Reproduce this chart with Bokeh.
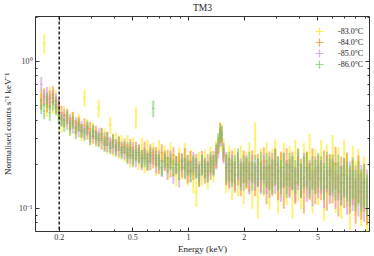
import numpy as np
from bokeh.plotting import figure
from bokeh.models import (ColumnDataSource, Span, LogAxis, FixedTicker,
                          CustomJSTickFormatter, Legend, LegendItem,
                          CustomLabelingPolicy)
from bokeh.core.properties import value
from bokeh.embed import file_html
from bokeh.resources import INLINE

# ---------------- data ----------------
energy = [0.160, 0.166, 0.172, 0.178, 0.185, 0.192, 0.199, 0.206, 0.213, 0.221,
          0.229, 0.237, 0.246, 0.255, 0.264, 0.274, 0.284, 0.294, 0.305, 0.316,
          0.327, 0.339, 0.352, 0.364, 0.378, 0.391, 0.405, 0.420, 0.435, 0.451,
          0.468, 0.485, 0.502, 0.520, 0.539, 0.559, 0.579, 0.600, 0.622, 0.645,
          0.668, 0.692, 0.717, 0.744, 0.771, 0.799, 0.828, 0.858, 0.889, 0.921,
          0.955, 0.989, 1.025, 1.062, 1.101, 1.141, 1.182, 1.225, 1.270, 1.316,
          1.364, 1.413, 1.450, 1.480, 1.510, 1.545, 1.600, 1.660, 1.720, 1.780,
          1.850, 1.915, 1.985, 2.055, 2.130, 2.210, 2.290, 2.370, 2.460, 2.550,
          2.640, 2.735, 2.835, 2.940, 3.045, 3.155, 3.270, 3.390, 3.515, 3.640,
          3.775, 3.910, 4.055, 4.200, 4.355, 4.510, 4.675, 4.845, 5.020, 5.205,
          5.395, 5.590, 5.795, 6.005, 6.225, 6.450, 6.685, 6.930, 7.180, 7.440,
          7.710, 7.990, 8.280, 8.580, 8.890, 9.210]

rate_m83 = [0.56, 1.33, 0.50, 0.58, 0.52, 0.55, 0.47, 0.38, 0.44, 0.41,
            0.36, 0.40, 0.35, 0.39, 0.33, 0.57, 0.36, 0.31, 0.34, 0.30,
            0.48, 0.29, 0.31, 0.27, 0.37, 0.26, 0.29, 0.25, 0.28, 0.24,
            0.27, 0.23, 0.26, 0.42, 0.22, 0.26, 0.21, 0.25, 0.22, 0.24,
            0.20, 0.25, 0.21, 0.23, 0.19, 0.24, 0.20, 0.17, 0.22, 0.19,
            0.23, 0.18, 0.21, 0.16, 0.13, 0.20, 0.18, 0.21, 0.17, 0.22,
            0.19, 0.24, 0.28, 0.33, 0.29, 0.26, 0.18, 0.21, 0.16, 0.20,
            0.17, 0.21, 0.15, 0.19, 0.22, 0.14, 0.30, 0.12, 0.20, 0.17,
            0.21, 0.15, 0.19, 0.22, 0.14, 0.18, 0.21, 0.16, 0.20, 0.13,
            0.22, 0.17, 0.15, 0.21, 0.18, 0.24, 0.14, 0.19, 0.16, 0.22,
            0.13, 0.20, 0.17, 0.23, 0.15, 0.19, 0.14, 0.21, 0.17, 0.12,
            0.19, 0.15, 0.18, 0.13, 0.16, 0.11]

rate_m84 = [0.54, 0.58, 0.52, 0.56, 0.60, 0.51, 0.49, 0.45, 0.40, 0.43,
            0.38, 0.41, 0.36, 0.38, 0.34, 0.37, 0.33, 0.35, 0.31, 0.33,
            0.30, 0.32, 0.28, 0.30, 0.27, 0.29, 0.26, 0.28, 0.25, 0.27,
            0.24, 0.26, 0.23, 0.25, 0.24, 0.22, 0.25, 0.21, 0.24, 0.22,
            0.23, 0.20, 0.24, 0.21, 0.22, 0.19, 0.23, 0.20, 0.21, 0.19,
            0.22, 0.18, 0.21, 0.19, 0.20, 0.17, 0.21, 0.18, 0.20, 0.19,
            0.21, 0.23, 0.27, 0.34, 0.32, 0.24, 0.19, 0.18, 0.20, 0.17,
            0.19, 0.16, 0.20, 0.18, 0.17, 0.20, 0.16, 0.19, 0.17, 0.21,
            0.15, 0.19, 0.17, 0.20, 0.16, 0.19, 0.14, 0.20, 0.17, 0.19,
            0.15, 0.20, 0.17, 0.13, 0.19, 0.16, 0.20, 0.15, 0.18, 0.16,
            0.19, 0.14, 0.18, 0.16, 0.20, 0.13, 0.17, 0.15, 0.18, 0.14,
            0.16, 0.12, 0.17, 0.13, 0.15, 0.12]

rate_m85 = [0.70, 0.57, 0.60, 0.53, 0.57, 0.54, 0.50, 0.41, 0.43, 0.38,
            0.40, 0.36, 0.38, 0.34, 0.36, 0.33, 0.35, 0.31, 0.33, 0.30,
            0.32, 0.28, 0.30, 0.27, 0.28, 0.26, 0.27, 0.25, 0.26, 0.24,
            0.25, 0.23, 0.25, 0.22, 0.24, 0.21, 0.23, 0.22, 0.21, 0.23,
            0.20, 0.22, 0.19, 0.21, 0.18, 0.22, 0.17, 0.20, 0.16, 0.21,
            0.19, 0.20, 0.18, 0.21, 0.19, 0.18, 0.20, 0.19, 0.18, 0.20,
            0.20, 0.22, 0.25, 0.30, 0.30, 0.23, 0.20, 0.18, 0.19, 0.17,
            0.20, 0.18, 0.17, 0.19, 0.16, 0.19, 0.17, 0.18, 0.16, 0.19,
            0.17, 0.16, 0.19, 0.17, 0.18, 0.15, 0.19, 0.17, 0.16, 0.18,
            0.15, 0.18, 0.16, 0.19, 0.15, 0.17, 0.14, 0.18, 0.16, 0.17,
            0.14, 0.18, 0.15, 0.17, 0.14, 0.16, 0.15, 0.17, 0.13, 0.16,
            0.14, 0.15, 0.13, 0.15, 0.12, 0.14]

rate_m86 = [0.50, 0.46, 0.55, 0.45, 0.53, 0.49, 0.43, 0.40, 0.37, 0.42,
            0.35, 0.39, 0.33, 0.37, 0.34, 0.32, 0.36, 0.30, 0.34, 0.31,
            0.29, 0.32, 0.27, 0.30, 0.26, 0.29, 0.25, 0.28, 0.24, 0.26,
            0.23, 0.25, 0.22, 0.24, 0.23, 0.22, 0.22, 0.21, 0.23, 0.48,
            0.22, 0.21, 0.19, 0.22, 0.20, 0.21, 0.19, 0.20, 0.18, 0.21,
            0.19, 0.20, 0.18, 0.20, 0.19, 0.17, 0.20, 0.19, 0.18, 0.21,
            0.20, 0.24, 0.29, 0.32, 0.33, 0.25, 0.19, 0.20, 0.18, 0.19,
            0.21, 0.17, 0.19, 0.18, 0.20, 0.17, 0.19, 0.18, 0.20, 0.16,
            0.19, 0.18, 0.17, 0.20, 0.18, 0.17, 0.19, 0.16, 0.19, 0.18,
            0.17, 0.20, 0.16, 0.18, 0.19, 0.16, 0.18, 0.17, 0.19, 0.18,
            0.16, 0.19, 0.17, 0.18, 0.16, 0.18, 0.15, 0.17, 0.16, 0.15,
            0.17, 0.14, 0.16, 0.14, 0.15, 0.13]

# fractional 1-sigma errors per energy bin
err_frac = [0.12, 0.12, 0.12, 0.12, 0.12, 0.12, 0.12, 0.10, 0.10, 0.10,
            0.10, 0.10, 0.10, 0.10, 0.10, 0.10, 0.10, 0.10, 0.10, 0.10,
            0.10, 0.10, 0.10, 0.10, 0.10, 0.10, 0.10, 0.10, 0.10, 0.10,
            0.13, 0.13, 0.13, 0.13, 0.13, 0.13, 0.13, 0.13, 0.13, 0.13,
            0.13, 0.13, 0.13, 0.13, 0.13, 0.13, 0.13, 0.13, 0.13, 0.13,
            0.16, 0.16, 0.16, 0.16, 0.16, 0.16, 0.16, 0.16, 0.16, 0.16,
            0.16, 0.16, 0.12, 0.12, 0.12, 0.12, 0.22, 0.22, 0.22, 0.22,
            0.22, 0.22, 0.22, 0.22, 0.22, 0.22, 0.22, 0.22, 0.22, 0.22,
            0.26, 0.26, 0.26, 0.26, 0.26, 0.26, 0.26, 0.26, 0.26, 0.26,
            0.26, 0.26, 0.26, 0.26, 0.26, 0.26, 0.26, 0.26, 0.26, 0.26,
            0.28, 0.28, 0.28, 0.29, 0.29, 0.29, 0.30, 0.30, 0.30, 0.31,
            0.31, 0.31, 0.32, 0.32, 0.32, 0.32]

series_labels = ["-83.0°C", "-84.0°C", "-85.0°C", "-86.0°C"]
series_rates = [rate_m83, rate_m84, rate_m85, rate_m86]
series_err_scale = [1.3, 1.1, 1.0, 1.0]
series_colors = ["#ffe800", "#ff8410", "#c98ad8", "#6cc85a"]

x_ticks = [0.2, 0.5, 1, 2, 5]
x_minor = [0.2, 0.3, 0.4, 0.5, 0.6, 0.7, 0.8, 0.9, 2, 3, 4, 5, 6, 7, 8, 9]
y_ticks = [0.1, 1.0]
y_minor = [0.07, 0.08, 0.09, 0.2, 0.3, 0.4, 0.5, 0.6, 0.7, 0.8, 0.9, 2]
cut_energy = 0.2

FONT = "Liberation Serif"

# ---------------- figure ----------------
p = figure(width=374, height=256, x_axis_type="log", y_axis_type="log",
           x_range=(0.149, 9.5), y_range=(0.07, 2.02),
           output_backend="svg", toolbar_location=None, title="TM3",
           min_border_left=0, min_border_right=4, min_border_top=0,
           min_border_bottom=0)

p.title.text_font = FONT
p.title.text_font_size = "9.5px"
p.title.text_font_style = "normal"
p.title.align = "center"
p.title.standoff = 0
p.title.text_color = "#222222"

p.grid.visible = False
p.outline_line_color = "#333333"
p.outline_line_width = 1
p.background_fill_color = "white"
p.border_fill_color = "white"

e = np.array(energy)
edges = np.sqrt(e[1:] * e[:-1])
lo_edge = np.concatenate([[e[0] ** 2 / edges[0]], edges])
hi_edge = np.concatenate([edges, [e[-1] ** 2 / edges[-1]]])
frac = np.array(err_frac)

keys = []
for rates, lab, col, sc in zip(series_rates, series_labels, series_colors, series_err_scale):
    r = np.array(rates)
    src = ColumnDataSource(dict(x=e, y=r, x0=lo_edge, x1=hi_edge,
                                y0=r * (1 - frac * sc), y1=r * (1 + frac * sc)))
    p.segment(x0="x", x1="x", y0="y0", y1="y1", source=src,
              line_color=col, line_width=2.0, line_alpha=0.55)
    p.segment(x0="x0", x1="x1", y0="y", y1="y", source=src,
              line_color=col, line_width=1.0, line_alpha=0.55)
    key = p.scatter(x="x", y="y", source=src, marker="cross", size=0.01,
                    line_color=col, line_width=1.2, line_alpha=0.7)
    keys.append((lab, key))

span = Span(location=cut_energy, dimension="height", line_color="black",
            line_width=1.3, line_dash="3 2")
p.add_layout(span)

# ---------------- axes ----------------
xt = FixedTicker(ticks=x_ticks, minor_ticks=x_minor)
yt = FixedTicker(ticks=y_ticks, minor_ticks=y_minor)
yfmt = CustomJSTickFormatter(code="""
    const e = Math.round(Math.log10(tick));
    const sup = {'-':'\u207b','0':'\u2070','1':'\u00b9','2':'\u00b2','3':'\u00b3'};
    return '10' + String(e).split('').map(c => sup[c]).join('');
""")
xfmt = CustomJSTickFormatter(code="return String(tick);")
no_labels = CustomLabelingPolicy(code="""
    const all = [...indices]
    for (const i of all) {
        if (indices.unset) { indices.unset(i) } else { indices.set(i, false) }
    }
    return indices
""")

def style_axis(ax, labels=True):
    ax.axis_line_color = None
    ax.major_tick_in = 4
    ax.major_tick_out = 0
    ax.minor_tick_in = 2
    ax.minor_tick_out = 0
    ax.major_tick_line_color = "#333333"
    ax.minor_tick_line_color = "#333333"
    ax.major_label_text_font = FONT
    ax.major_label_text_font_size = "8px" if labels else "1px"
    ax.major_label_text_color = "#333333"
    ax.axis_label_text_font = FONT
    ax.axis_label_text_font_size = "9px"
    ax.axis_label_text_font_style = "normal"
    ax.axis_label_text_color = "#222222"
    if not labels:
        ax.major_label_policy = no_labels

xa = p.xaxis[0]
xa.ticker = xt
xa.formatter = xfmt
style_axis(xa)
xa.major_label_standoff = 2
xa.axis_label = "Energy (keV)"
xa.axis_label_standoff = 1

ya = p.yaxis[0]
ya.ticker = yt
ya.formatter = yfmt
style_axis(ya)
ya.major_label_standoff = 3
ya.axis_label = "Normalised counts s\u207b\u00b9 keV\u207b\u00b9"
ya.axis_label_standoff = 3

top = LogAxis(ticker=FixedTicker(ticks=x_ticks, minor_ticks=x_minor))
style_axis(top, labels=False)
top.major_label_standoff = 0
p.add_layout(top, "above")

right = LogAxis(ticker=FixedTicker(ticks=y_ticks, minor_ticks=y_minor))
style_axis(right, labels=False)
right.major_label_standoff = 0
p.add_layout(right, "right")

# one small legend per entry, stacked 11 px apart (frame-relative pixels)
for i, (lab, key) in enumerate(keys):
    lg = Legend(items=[LegendItem(label=lab, renderers=[key])],
                location=(274, 190 - 11 * i))
    lg.border_line_color = None
    lg.background_fill_alpha = 0
    lg.label_text_font = FONT
    lg.label_text_font_size = "8px"
    lg.label_text_color = "#222222"
    lg.glyph_width = 20
    lg.glyph_height = 20
    lg.label_height = 20
    lg.padding = 0
    lg.margin = 0
    lg.label_standoff = 9
    p.add_layout(lg)

open("out.html", "w").write(file_html(p, INLINE))
